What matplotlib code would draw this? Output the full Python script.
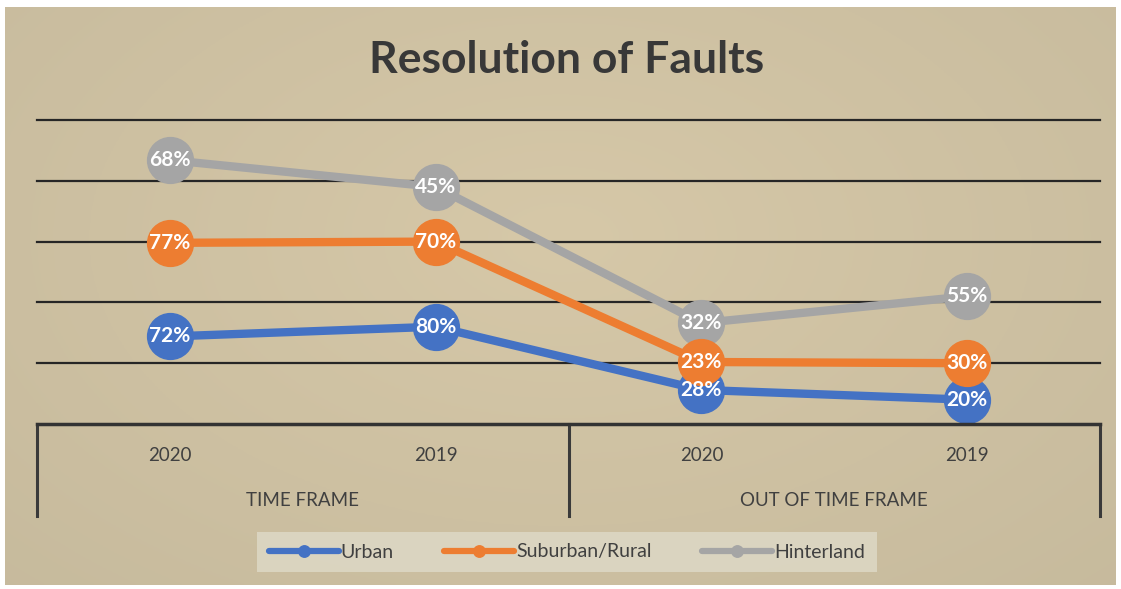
import matplotlib
matplotlib.use("Agg")
import matplotlib.pyplot as plt
import matplotlib.transforms as mtransforms
import numpy as np

years = ["2020", "2019", "2020", "2019"]
groups = ["TIME FRAME", "OUT OF TIME FRAME"]
series_names = ["Urban", "Suburban/Rural", "Hinterland"]
urban = [72, 80, 28, 20]
suburban = [77, 70, 23, 30]
hinterland = [68, 45, 32, 55]

colors = ["#4472c4", "#ed7d31", "#a5a5a5"]
zorders = [4, 5, 3]

plt.rcParams["font.family"] = ["Lato", "DejaVu Sans"]

fig = plt.figure(figsize=(11.21, 5.89), dpi=100, facecolor="white")

# beige backdrop with soft radial light
bg = fig.add_axes([5 / 1121, 4 / 589, 1111 / 1121, 578 / 589], zorder=-10)
gy, gx = np.mgrid[0:1:200j, 0:1:400j]
r = np.sqrt(((gx - 0.5) / 0.85) ** 2 + ((gy - 0.4) / 1.0) ** 2)
light = np.array([214, 200, 168]) / 255
dark = np.array([196, 184, 155]) / 255
t = np.clip(r, 0, 1)[..., None]
bg.imshow(light * (1 - t) + dark * t, aspect="auto", extent=[0, 1, 0, 1])
bg.axis("off")

ax = fig.add_axes([37 / 1121, 1 - 424 / 589, 1063 / 1121, 304 / 589])
ax.patch.set_alpha(0)
x = np.arange(len(years))
stacked = np.cumsum([urban, suburban, hinterland], axis=0)
raw = [urban, suburban, hinterland]

for name, ys, vals, c, z in zip(series_names, stacked, raw, colors, zorders):
    ax.plot(x, ys, color=c, lw=6, marker="o", ms=33, mec=c, mfc=c,
            label=name, zorder=z, solid_capstyle="round")
    for xi, yi, v in zip(x, ys, vals):
        ax.text(xi, yi, f"{v}%", color="white", fontsize=15, fontweight="bold",
                ha="center", va="center", zorder=10)

ax.set_xlim(-0.5, 3.5)
ax.set_ylim(0, 250)
for gyv in [50, 100, 150, 200, 250]:
    ax.axhline(gyv, color="#262626", lw=1.6, zorder=1, clip_on=False)
for s in ax.spines.values():
    s.set_visible(False)
ax.set_yticks([])
ax.set_xticks([])

# two-level category axis
tr = mtransforms.blended_transform_factory(ax.transData, ax.transAxes)
ax.plot([-0.5, 3.5], [0, 0], transform=tr, color="#333333", lw=2.5,
        clip_on=False, zorder=6)
for xv in [-0.5, 1.5, 3.5]:
    ax.plot([xv, xv], [0, -0.303], transform=tr, color="#3a3a3a", lw=2.2,
            clip_on=False)
for xi, lab in zip(x, years):
    ax.text(xi, -0.102, lab, transform=tr, ha="center", va="center",
            fontsize=13.5, color="#404040")
for gi, lab in enumerate(groups):
    ax.text(0.5 + 2 * gi, -0.25, lab, transform=tr, ha="center", va="center",
            fontsize=13.5, color="#404040")

fig.text(567 / 1121, 1 - 60 / 589, "Resolution of Faults", ha="center",
         va="center", fontsize=32, fontweight="bold", color="#383838")

leg = ax.legend(loc="center", bbox_to_anchor=(567 / 1121, 1 - 552 / 589),
                bbox_transform=fig.transFigure, ncol=3, fontsize=14,
                frameon=True, fancybox=False, markerscale=0.25,
                handlelength=3.6, columnspacing=2.6, handletextpad=0.1,
                borderpad=0.6, borderaxespad=0)
leg.get_frame().set_facecolor("#e0dccb")
leg.get_frame().set_alpha(0.75)
leg.get_frame().set_edgecolor("none")
for h in leg.legend_handles:
    h.set_linewidth(4.5)
for txt in leg.get_texts():
    txt.set_color("#404040")

fig.savefig("out.png", dpi=100, facecolor="white")
